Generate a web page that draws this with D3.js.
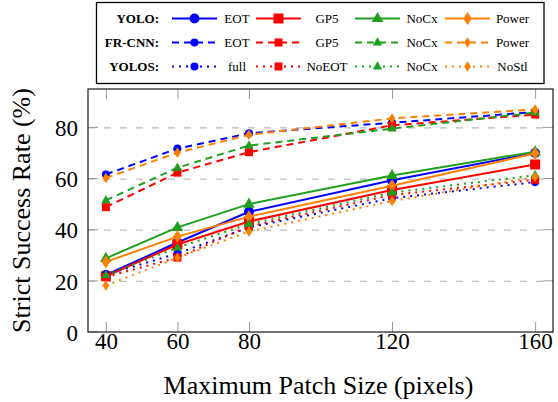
<!DOCTYPE html>
<html>
<head>
<meta charset="utf-8">
<script src="https://cdn.jsdelivr.net/npm/d3@7"></script>
<style>
  body { margin: 0; background: #fff; }
</style>
</head>
<body>
<div id="chart"></div>
<script>
// data
const sizes = [40, 60, 80, 120, 160];
const yTicks = [0, 20, 40, 60, 80];
const groups = ['YOLO:', 'FR-CNN:', 'YOLOS:'];
const names = [
  ['EOT', 'GP5', 'NoCx', 'Power'],
  ['EOT', 'GP5', 'NoCx', 'Power'],
  ['full', 'NoEOT', 'NoCx', 'NoStl']
];

const yoloEOT   = [22.3, 35.0, 47.0, 59.3, 70.0];
const yoloGP5   = [21.8, 34.2, 43.2, 55.5, 65.5];
const yoloNoCx  = [28.8, 40.9, 50.0, 61.2, 70.5];
const yoloPower = [27.4, 37.3, 45.1, 57.2, 69.8];

const frEOT   = [61.6, 71.7, 77.7, 81.8, 86.0];
const frGP5   = [48.8, 62.3, 70.3, 80.8, 85.0];
const frNoCx  = [51.5, 64.2, 72.9, 79.5, 85.8];
const frPower = [60.2, 70.1, 77.1, 83.5, 87.0];

const yolosFull  = [22.4, 30.7, 40.9, 52.3, 58.6];
const yolosNoEOT = [21.5, 29.1, 41.3, 53.6, 59.5];
const yolosNoCx  = [22.2, 33.0, 42.2, 54.5, 61.3];
const yolosNoStl = [18.2, 29.0, 39.3, 51.2, 60.6];

const seriesValues = [
  [yoloEOT, yoloGP5, yoloNoCx, yoloPower],
  [frEOT, frGP5, frNoCx, frPower],
  [yolosFull, yolosNoEOT, yolosNoCx, yolosNoStl]
];

// styles
const FONT = "'Liberation Serif', 'Times New Roman', Times, serif";
const colors = ['#0000ff', '#ff0000', '#1f9f1f', '#ff8000'];
const dashes = [null, '7,5', '2,5'];
const markerScale = [1, 0.8, 0.8];
const markers = [
  s => d3.symbol(d3.symbolCircle, 80 * s * s)(),
  s => d3.symbol(d3.symbolSquare, 100 * s * s)(),
  s => `M0,${-6.5 * s}L${5.8 * s},${3.6 * s}L${-5.8 * s},${3.6 * s}Z`,
  s => `M0,${-6.5 * s}L${4.3 * s},0L0,${6.5 * s}L${-4.3 * s},0Z`
];

const W = 558, H = 402;
const margin = {left: 88, right: 5, top: 89, bottom: 70};

let svg = d3.select('#chart').append('svg')
  .attr('width', W)
  .attr('height', H)
  .attr('font-family', FONT)
  .style('display', 'block');

let x = d3.scaleLinear().domain([35, 165]).range([margin.left, W - margin.right]);
let y = d3.scaleLinear().domain([0, 95]).range([H - margin.bottom, margin.top]);

const x0 = x.range()[0], x1 = x.range()[1], y0 = y.range()[0], y1 = y.range()[1];

// horizontal grid
svg.append('g')
  .attr('transform', `translate(${x0},0)`)
  .call(d3.axisLeft(y).tickValues(yTicks.filter(d => d > 0)).tickSize(-(x1 - x0)).tickFormat(''))
  .call(g => g.select('.domain').remove())
  .call(g => g.selectAll('line')
    .attr('stroke', '#bdbdbd')
    .attr('stroke-width', 1.2)
    .attr('stroke-dasharray', '7,9'));

// inward ticks left/right
[[x0, 10], [x1, -10]].forEach(function ([px, len]) {
  svg.append('g').selectAll('line')
    .data(yTicks)
    .join('line')
    .attr('x1', px).attr('x2', px + len)
    .attr('y1', d => y(d)).attr('y2', d => y(d))
    .attr('stroke', '#9a9a9a')
    .attr('stroke-width', 1);
});

// x axis, ticks inward
svg.append('g')
  .attr('transform', `translate(0,${y0})`)
  .call(d3.axisBottom(x).tickValues(sizes).tickSizeInner(-10).tickSizeOuter(0))
  .attr('font-family', FONT)
  .attr('font-size', 23)
  .call(g => g.select('.domain').remove())
  .call(g => g.selectAll('line').attr('stroke', '#9a9a9a'))
  .call(g => g.selectAll('text')
    .attr('y', 17)
    .attr('dy', '0')
    .attr('fill', '#000'));

svg.append('g')
  .attr('transform', `translate(0,${y1})`)
  .call(d3.axisTop(x).tickValues(sizes).tickSizeInner(-10).tickSizeOuter(0).tickFormat(''))
  .call(g => g.select('.domain').remove())
  .call(g => g.selectAll('line').attr('stroke', '#9a9a9a'));

// y labels
svg.append('g')
  .attr('transform', `translate(${x0},0)`)
  .call(d3.axisLeft(y).tickValues(yTicks).tickSize(0).tickPadding(10))
  .attr('font-family', FONT)
  .attr('font-size', 23)
  .call(g => g.select('.domain').remove())
  .call(g => g.selectAll('text')
    .attr('fill', '#000')
    .attr('dy', '0.36em'));

// frame
svg.append('rect')
  .attr('x', x0).attr('y', y1)
  .attr('width', x1 - x0).attr('height', y0 - y1)
  .attr('fill', 'none')
  .attr('stroke', '#1a1a1a')
  .attr('stroke-width', 1.2);

// axis titles
svg.append('text')
  .attr('x', (x0 + x1) / 2 - 2)
  .attr('y', 394)
  .attr('text-anchor', 'middle')
  .attr('font-family', FONT)
  .attr('font-size', 26)
  .text('Maximum Patch Size (pixels)');

svg.append('text')
  .attr('transform', `translate(30,${(y0 + y1) / 2}) rotate(-90)`)
  .attr('text-anchor', 'middle')
  .attr('font-family', FONT)
  .attr('font-size', 26)
  .text('Strict Success Rate (%)');

// series
let line = d3.line()
  .x((d, i) => x(sizes[i]))
  .y(d => y(d));

seriesValues.forEach(function (row, gi) {
  row.forEach(function (vals, ci) {
    let g = svg.append('g');
    g.append('path')
      .attr('d', line(vals))
      .attr('fill', 'none')
      .attr('stroke', colors[ci])
      .attr('stroke-width', 2)
      .attr('stroke-dasharray', dashes[gi]);
    g.selectAll('path.mark')
      .data(vals)
      .join('path')
      .attr('class', 'mark')
      .attr('transform', (d, i) => `translate(${x(sizes[i])},${y(d)})`)
      .attr('d', markers[ci](markerScale[gi]))
      .attr('fill', colors[ci]);
  });
});

// legend
const legendRows = [18.5, 42.5, 66.5];
const legendLineX = [172, 256, 355, 445];
const legendTextX = [237, 327, 422, 512.5];

let legend = svg.append('g')
  .attr('font-family', FONT)
  .attr('font-size', 13);
legend.append('rect')
  .attr('x', 96.5).attr('y', 2.5)
  .attr('width', 447.5).attr('height', 81)
  .attr('fill', '#fff')
  .attr('stroke', '#000')
  .attr('stroke-width', 1.3);

groups.forEach(function (label, gi) {
  let ly = legendRows[gi];
  legend.append('text')
    .attr('x', 159).attr('y', ly)
    .attr('dy', '0.35em')
    .attr('text-anchor', 'end')
    .attr('font-weight', 'bold')
    .text(label);
  names[gi].forEach(function (name, ci) {
    let lx = legendLineX[ci];
    legend.append('line')
      .attr('x1', lx).attr('x2', lx + 45)
      .attr('y1', ly).attr('y2', ly)
      .attr('stroke', colors[ci])
      .attr('stroke-width', 2)
      .attr('stroke-dasharray', dashes[gi]);
    legend.append('path')
      .attr('transform', `translate(${lx + 22.5},${ly})`)
      .attr('d', markers[ci](markerScale[gi]))
      .attr('fill', colors[ci]);
    legend.append('text')
      .attr('x', legendTextX[ci]).attr('y', ly)
      .attr('dy', '0.35em')
      .attr('text-anchor', 'middle')
      .text(name);
  });
});
</script>
</body>
</html>
